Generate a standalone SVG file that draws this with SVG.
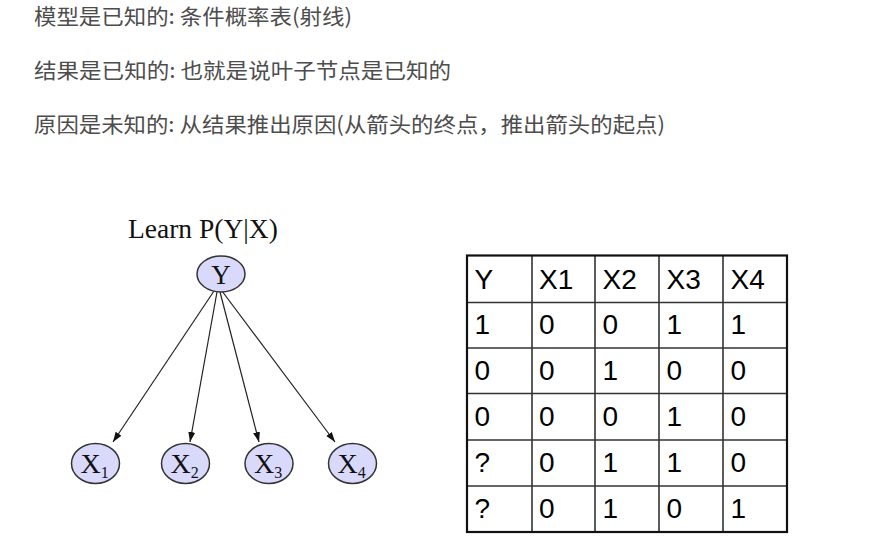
<svg xmlns="http://www.w3.org/2000/svg" width="869" height="539" viewBox="0 0 869 539">
<defs>
<marker id="ah" viewBox="0 0 10 10" refX="10" refY="5" markerWidth="10" markerHeight="10" markerUnits="userSpaceOnUse" orient="auto">
<path d="M0,1.5 L10,5 L0,8.5 Z" fill="#111"/>
</marker>
</defs>
<style>
.note{font-family:"Noto Sans CJK SC","Noto Sans",sans-serif;font-size:21px;fill:#4d4d4d}
.serif{font-family:"Liberation Serif","Times New Roman",serif;fill:#111}
.node ellipse{fill:#d9d9fb;stroke:#333;stroke-width:1.5}
.edge{stroke:#222;stroke-width:1.2;fill:none;marker-end:url(#ah)}
.cell{font-family:"Liberation Sans",Arial,sans-serif;font-size:28px;fill:#000}
.grid{stroke:#333;stroke-width:1.6}
</style>
<rect width="869" height="539" fill="#fff"/>
<g id="notes">
<text class="note" x="34" y="23.5" textLength="318" lengthAdjust="spacingAndGlyphs">模型是已知的: 条件概率表(射线)</text>
<text class="note" x="34" y="77.5" textLength="417" lengthAdjust="spacingAndGlyphs">结果是已知的: 也就是说叶子节点是已知的</text>
<text class="note" x="34" y="131.5" textLength="631" lengthAdjust="spacingAndGlyphs">原因是未知的: 从结果推出原因(从箭头的终点，推出箭头的起点)</text>
</g>
<g id="title"><text class="serif" x="128" y="238" font-size="27.5">Learn P(Y|X)</text></g>
<g id="connectors">
<line class="edge" x1="214" y1="291" x2="113" y2="442"/>
<line class="edge" x1="217" y1="292" x2="190" y2="442"/>
<line class="edge" x1="220" y1="292" x2="259" y2="442"/>
<line class="edge" x1="222" y1="291" x2="335" y2="442"/>
</g>
<g id="node-Y" class="node"><ellipse cx="221" cy="274" rx="24" ry="18"/><text class="serif" x="221" y="283.5" font-size="27" text-anchor="middle">Y</text></g>
<g id="node-X1" class="node"><ellipse cx="95.5" cy="463.5" rx="24" ry="20"/><text class="serif" x="80.5" y="473" font-size="28">X<tspan font-size="16" dy="5">1</tspan></text></g>
<g id="node-X2" class="node"><ellipse cx="185.5" cy="463.5" rx="24" ry="20"/><text class="serif" x="170.5" y="473" font-size="28">X<tspan font-size="16" dy="5">2</tspan></text></g>
<g id="node-X3" class="node"><ellipse cx="269" cy="463.5" rx="24" ry="20"/><text class="serif" x="254" y="473" font-size="28">X<tspan font-size="16" dy="5">3</tspan></text></g>
<g id="node-X4" class="node"><ellipse cx="352.5" cy="463.5" rx="24" ry="20"/><text class="serif" x="337.5" y="473" font-size="28">X<tspan font-size="16" dy="5">4</tspan></text></g>
<g id="table">
<g class="grid">
<line x1="532" y1="255.5" x2="532" y2="532"/>
<line x1="595" y1="255.5" x2="595" y2="532"/>
<line x1="659" y1="255.5" x2="659" y2="532"/>
<line x1="723" y1="255.5" x2="723" y2="532"/>
<line x1="467" y1="302.5" x2="787" y2="302.5"/>
<line x1="467" y1="348" x2="787" y2="348"/>
<line x1="467" y1="393.5" x2="787" y2="393.5"/>
<line x1="467" y1="440" x2="787" y2="440"/>
<line x1="467" y1="486" x2="787" y2="486"/>
</g>
<rect x="467" y="255.5" width="320" height="276.5" fill="none" stroke="#111" stroke-width="2.2"/>
<g class="cell">
<text x="474.5" y="288.5">Y</text><text x="539" y="288.5">X1</text><text x="602.5" y="288.5">X2</text><text x="666.5" y="288.5">X3</text><text x="730.5" y="288.5">X4</text>
<text x="474.5" y="333.5">1</text><text x="539" y="333.5">0</text><text x="602.5" y="333.5">0</text><text x="666.5" y="333.5">1</text><text x="730.5" y="333.5">1</text>
<text x="474.5" y="379.5">0</text><text x="539" y="379.5">0</text><text x="602.5" y="379.5">1</text><text x="666.5" y="379.5">0</text><text x="730.5" y="379.5">0</text>
<text x="474.5" y="425.5">0</text><text x="539" y="425.5">0</text><text x="602.5" y="425.5">0</text><text x="666.5" y="425.5">1</text><text x="730.5" y="425.5">0</text>
<text x="474.5" y="471.5">?</text><text x="539" y="471.5">0</text><text x="602.5" y="471.5">1</text><text x="666.5" y="471.5">1</text><text x="730.5" y="471.5">0</text>
<text x="474.5" y="518">?</text><text x="539" y="518">0</text><text x="602.5" y="518">1</text><text x="666.5" y="518">0</text><text x="730.5" y="518">1</text>
</g>
</g>
</svg>
